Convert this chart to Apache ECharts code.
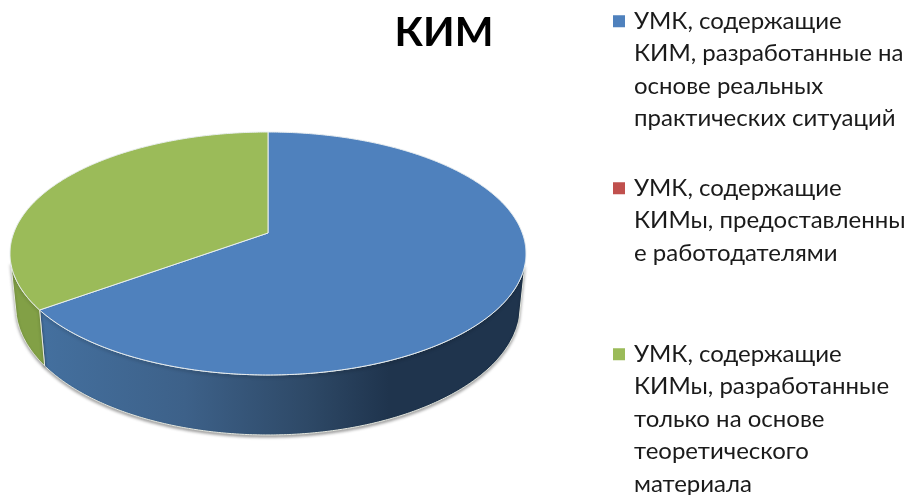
<!DOCTYPE html>
<html><head><meta charset="utf-8">
<style>html,body{margin:0;padding:0;background:#fff}#c{width:912px;height:495px}</style>
<script src="https://cdn.jsdelivr.net/npm/echarts@6/dist/echarts.min.js"></script>
</head><body><div id="c"></div>
<script>
const titleText = 'КИМ';
const categories = [
  'УМК, содержащие КИМ, разработанные на основе реальных практических ситуаций',
  'УМК, содержащие КИМы, предоставленные работодателями',
  'УМК, содержащие КИМы, разработанные только на основе теоретического материала'
];
const wrapped = [
  'УМК, содержащие\nКИМ, разработанные на\nоснове реальных\nпрактических ситуаций',
  'УМК, содержащие\nКИМы, предоставленны\nе работодателями',
  'УМК, содержащие\nКИМы, разработанные\nтолько на основе\nтеоретического\nматериала'
];
const values = [65, 0, 35];
const colors = ['#4f81bd', '#c0504d', '#9bbb59'];
const legendTops = [5, 172, 338];

const FONT = 'Lato, "Open Sans", sans-serif';
const LH = 32.4;
const total = values.reduce((a, b) => a + b, 0);

// Perspective projection of the unit disc: top face and bottom face
const CX = 268, K = 0.1687;
const TOP = {cy:233, a:254.3, b:118};
const BOTTOM = {cy:284, a:248.7, b:125.5};
function proj(deg, face) {
  const t = deg * Math.PI / 180, u = Math.sin(t), v = -Math.cos(t), w = 1 - K * v;
  return [CX + face.a * u / w, face.cy + face.b * v / w];
}
function arc(a0, a1, face) {
  const pts = [], n = Math.max(2, Math.ceil(Math.abs(a1 - a0) * 2));
  for (let i = 0; i <= n; i++) pts.push(proj(a0 + (a1 - a0) * i / n, face));
  return pts;
}
const wallFill = [
  {type:'linear',x:0,y:0,x2:1,y2:0,colorStops:[
    {offset:0,color:'#44709f'},{offset:0.3,color:'#3d6189'},{offset:0.55,color:'#2e4967'},
    {offset:0.72,color:'#1f344d'},{offset:1,color:'#1f344d'}]},
  '#8a3a38',
  '#82a046'
];
function sliceRender(index) {
  return function (params, api) {
    const val = api.value(0);
    if (!val) return {type:'group', children:[]};
    const before = values.slice(0, index).reduce((a, b) => a + b, 0);
    const a0 = before / total * 360, a1 = a0 + val / total * 360;
    const w0 = Math.max(a0, 105), w1 = Math.min(a1, 256);
    const children = [];
    if (w1 > w0) {
      children.push({
        type:'polygon', silent:true,
        shape:{points: arc(w0, w1, TOP).concat(arc(w1, w0, BOTTOM))},
        style:{fill: wallFill[index], stroke:'#e6e9e0', lineWidth:1,
               shadowColor:'rgba(0,0,0,0.35)', shadowBlur:3, shadowOffsetY:2}
      });
    }
    children.push({
      type:'polygon', silent:true,
      shape:{points: [[CX, TOP.cy]].concat(arc(a0, a1, TOP))},
      style:{fill: colors[index], stroke:'#e9eef0', lineWidth:1}
    });
    return {type:'group', children};
  };
}
function iconFor(n) {
  const h = LH * (n - 1) + 12;
  return {h, path:`path://M0 0H12V12H0Z M16 ${h}L16 ${h}Z`};
}
const legends = categories.map((name, i) => {
  const ic = iconFor(wrapped[i].split('\n').length);
  return {
    data:[{name, icon: ic.path}],
    left:613, top:legendTops[i], padding:0, orient:'vertical',
    itemWidth:16, itemHeight:ic.h, selectedMode:false,
    formatter:() => wrapped[i],
    textStyle:{fontFamily:FONT, fontSize:24, color:'#1a1a1a', lineHeight:LH}
  };
});
const chart = echarts.init(document.getElementById('c'), null, {renderer:'canvas'});
chart.setOption({
  animation:false,
  backgroundColor:'#fff',
  title:{text:titleText, left:439, top:7, textAlign:'center',
         textStyle:{fontFamily:FONT, fontSize:41, fontWeight:'bold', color:'#000'}},
  legend:legends,
  series:categories.map((name, i) => ({
    name, type:'custom', coordinateSystem:'none',
    itemStyle:{color:colors[i]},
    data:[[values[i]]],
    renderItem:sliceRender(i)
  }))
});
</script></body></html>
